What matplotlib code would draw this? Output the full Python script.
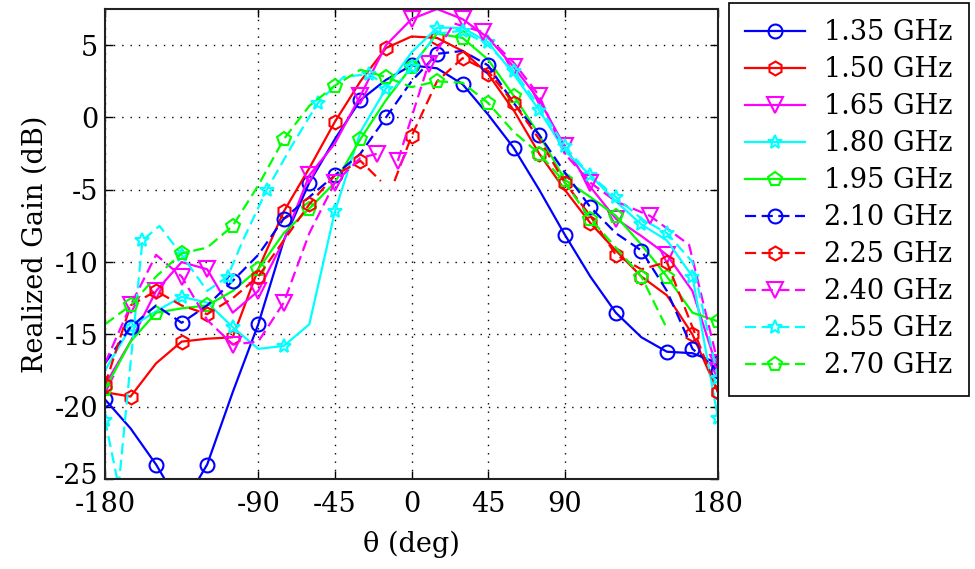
import numpy as np
import matplotlib
matplotlib.use("Agg")
import matplotlib.pyplot as plt
import matplotlib.transforms as mtransforms

plt.rcParams['font.family'] = ['DejaVu Serif', 'Liberation Serif']

# ---------------- data ----------------
theta = [-180, -165, -150, -135, -120, -105, -90, -75, -60, -45, -30, -15,
         0, 15, 30, 45, 60, 75, 90, 105, 120, 135, 150, 165, 180]

gain_135 = [-19.5, -21.5, -24.0, -27.0, -24.0, -19.0, -14.3, -8.5, -4.5, -1.5, 1.2, 2.6,
            3.6, 3.4, 2.3, 0.2, -2.1, -5.0, -8.1, -11.0, -13.5, -15.2, -16.2, -16.3, -17.0]
gain_150 = [-19.0, -19.3, -17.0, -15.5, -15.3, -15.2, -10.5, -6.5, -3.5, -0.3, 2.5, 4.8,
            5.6, 5.5, 4.6, 3.0, 0.5, -2.5, -5.0, -7.3, -9.2, -11.0, -12.3, -15.0, -19.0]
gain_165 = [-18.5, -15.5, -12.0, -10.0, -10.5, -13.5, -12.0, -8.5, -4.0, -1.8, 1.5, 5.0,
            6.8, 7.5, 6.8, 5.5, 3.5, 1.2, -2.0, -4.8, -7.0, -8.2, -9.5, -12.0, -17.5]
gain_180 = [-17.5, -14.5, -13.4, -12.4, -12.8, -14.5, -16.0, -15.8, -14.3, -6.5, -1.0, 2.0,
            4.5, 6.2, 6.2, 5.2, 3.0, 0.5, -2.3, -4.0, -5.8, -7.4, -8.5, -11.0, -20.8]
gain_195 = [-18.8, -15.5, -13.5, -13.2, -13.0, -12.0, -10.5, -8.0, -6.3, -4.5, -1.5, 1.2,
            3.5, 5.8, 5.5, 4.0, 1.5, -1.2, -4.3, -5.5, -6.8, -8.8, -11.0, -13.5, -14.1]
gain_210 = [-17.0, -14.5, -13.0, -14.2, -13.0, -11.3, -9.5, -7.0, -5.5, -4.0, -2.5, 0.0,
            2.5, 4.4, 4.6, 3.6, 1.0, -1.2, -3.8, -6.2, -8.0, -9.2, -12.0, -16.0, -17.5]
gain_270 = [-14.3, -13.0, -11.0, -9.4, -9.0, -7.5, -4.7, -1.5, 0.8, 2.2, 3.3, 2.8,
            2.1, 2.5, 2.4, 1.0, -1.0, -2.5, -4.5, -7.0, -9.0, -11.0, -14.6, np.nan, np.nan]

theta_225 = [-180, -165, -150, -135, -120, -105, -90, -75, -60, -45, -30, -18, -14,
             -10, 0, 15, 30, 45, 60, 75, 90, 105, 120, 135, 150, 165, 180]
gain_225 = [-18.5, -13.0, -12.0, -13.0, -13.6, -12.5, -11.0, -8.5, -6.0, -4.0, -3.0, -4.4, np.nan,
            -4.4, -1.3, 2.5, 4.1, 3.2, 1.0, -1.5, -4.5, -6.8, -9.5, -10.5, -10.0, -14.5, -19.0]

theta_240 = [-180, -165, -150, -135, -120, -105, -90, -75, -60, -45, -30, -20, -14,
             -8, 0, 10, 25, 42, 60, 75, 90, 105, 120, 140, 163, 180]
gain_240 = [-17.0, -13.0, -9.5, -11.0, -14.0, -15.7, -15.5, -12.8, -8.0, -4.5, -2.8, -2.5, np.nan,
            -3.0, 0.0, 3.7, 6.5, 5.9, 3.8, 1.5, -2.5, -4.5, -5.8, -6.8, -8.8, -17.0]

theta_255 = [-180, -172, -158, -148, -135, -120, -108, -99, -85, -70, -55, -40, -25, -11,
             0, 15, 30, 45, 60, 75, 90, 105, 120, 135, 150, 165, 180]
gain_255 = [-20.9, -25.5, -8.5, -7.5, -9.5, -12.0, -11.0, -8.5, -5.0, -1.9, 1.0, 2.8, 3.0, 1.9,
            3.5, 5.8, 6.0, 5.0, 3.2, 0.8, -2.0, -4.0, -5.5, -7.0, -8.0, -10.0, -18.0]

labels = ['1.35 GHz', '1.50 GHz', '1.65 GHz', '1.80 GHz', '1.95 GHz',
          '2.10 GHz', '2.25 GHz', '2.40 GHz', '2.55 GHz', '2.70 GHz']

xticks = [-180, -90, -45, 0, 45, 90, 180]
xticklabels = ['-180', '-90', '-45', '0', '45', '90', '180']
yticks = [-25, -20, -15, -10, -5, 0, 5]
yticklabels = ['-25', '-20', '-15', '-10', '-5', '0', '5']

# ---------------- figure ----------------
W, H = 975, 569
FS = 19.5
fig = plt.figure(figsize=(W / 100, H / 100), dpi=100)
ax = fig.add_axes([105 / W, 1 - 479 / H, (718 - 105) / W, (479 - 9) / H])

series = [
    (theta, gain_135, 'b', 'o', '-'),
    (theta, gain_150, 'r', 'h', '-'),
    (theta, gain_165, 'm', 'v', '-'),
    (theta, gain_180, 'c', '*', '-'),
    (theta, gain_195, 'g', 'p', '-'),
    (theta, gain_210, 'b', 'o', '--'),
    (theta_225, gain_225, 'r', 'h', '--'),
    (theta_240, gain_240, 'm', 'v', '--'),
    (theta_255, gain_255, 'c', '*', '--'),
    (theta, gain_270, 'g', 'p', '--'),
]
colors = {'b': '#0000FF', 'r': '#FF0000', 'm': '#FF00FF', 'c': '#00FFFF', 'g': '#00FF00'}

handles = []
for i, (th, g, c, mk, ls) in enumerate(series):
    n = len(th)
    me = list(range(i % 2, n, 2))
    if n - 1 not in me:
        me.append(n - 1)
    kw = dict(color=colors[c], lw=1.6, marker=mk, markevery=me, ms=10 if mk != 'v' else 11,
              mfc='none', mec=colors[c], mew=1.5, label=labels[i])
    if ls == '--':
        kw['dashes'] = (5, 2.5)
    (h,) = ax.plot(th, g, **kw)
    handles.append(h)

ax.set_xlim(-180, 180)
ax.set_ylim(-25, 7.5)
ax.set_xticks(xticks)
ax.set_xticklabels(xticklabels)
ax.set_yticks(yticks)
ax.set_yticklabels(yticklabels)
ax.tick_params(direction='in', top=True, right=True, length=6, width=1,
               labelsize=FS)
ax.tick_params(axis='x', pad=9)
ax.tick_params(axis='y', pad=5)
shift_up = mtransforms.ScaledTranslation(0, 4 / 72, fig.dpi_scale_trans)
for lbl in ax.get_yticklabels():
    if lbl.get_text() == '-25':
        lbl.set_transform(lbl.get_transform() + shift_up)
ax.grid(True, color='black', linestyle=(0, (1, 5)), linewidth=1.0)
for s in ax.spines.values():
    s.set_linewidth(1.5)
    s.set_color('#222222')

ax.set_xlabel('θ (deg)', fontsize=FS, labelpad=9)
ax.set_ylabel('Realized Gain (dB)', fontsize=FS, labelpad=4)

leg = fig.legend(handles=handles, loc='upper left',
                 bbox_to_anchor=(729 / W, 1 - 3 / H), bbox_transform=fig.transFigure,
                 fontsize=FS, numpoints=1, handlelength=2.2, handletextpad=0.7,
                 labelspacing=0.37, borderpad=0.6, borderaxespad=0, fancybox=False,
                 framealpha=1)
leg.get_frame().set_edgecolor('black')
leg.get_frame().set_linewidth(1.2)

fig.savefig('out.png', dpi=100)
